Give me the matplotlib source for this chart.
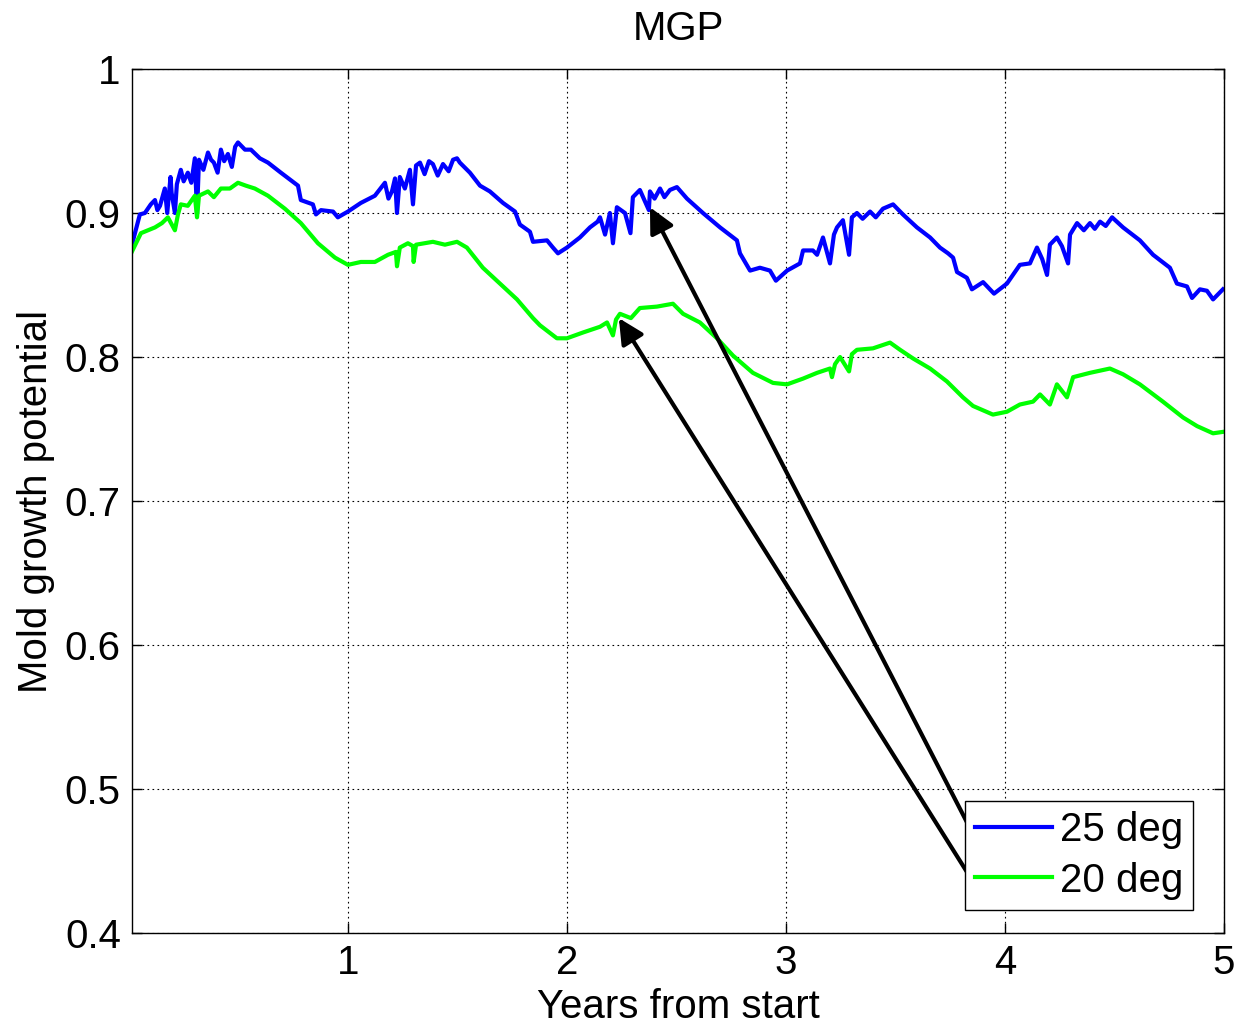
import numpy as np
import matplotlib.pyplot as plt

# Mold growth potential (years from start, MGP)
years_25 = [0.014, 0.050, 0.073, 0.100, 0.119, 0.130, 0.142, 0.164, 0.175, 0.190,
            0.195, 0.210, 0.219, 0.237, 0.250, 0.269, 0.285, 0.301, 0.311, 0.320,
            0.340, 0.361, 0.375, 0.388, 0.405, 0.420, 0.435, 0.452, 0.470, 0.485,
            0.498, 0.530, 0.557, 0.598, 0.635, 0.694, 0.772, 0.785, 0.840, 0.854,
            0.877, 0.932, 0.954, 1.000, 1.059, 1.123, 1.169, 1.185, 1.201, 1.215,
            1.224, 1.237, 1.260, 1.283, 1.297, 1.311, 1.329, 1.350, 1.370, 1.388,
            1.410, 1.434, 1.460, 1.480, 1.498, 1.511, 1.557, 1.603, 1.648, 1.708,
            1.763, 1.785, 1.831, 1.845, 1.909, 1.936, 1.959, 2.000, 2.059, 2.105,
            2.140, 2.151, 2.174, 2.196, 2.210, 2.228, 2.265, 2.290, 2.301, 2.333,
            2.374, 2.379, 2.400, 2.425, 2.445, 2.470, 2.502, 2.548, 2.621, 2.699,
            2.776, 2.790, 2.836, 2.881, 2.927, 2.954, 3.005, 3.064, 3.078, 3.123,
            3.142, 3.169, 3.185, 3.201, 3.219, 3.233, 3.260, 3.288, 3.301, 3.324,
            3.350, 3.384, 3.410, 3.443, 3.489, 3.534, 3.598, 3.658, 3.703, 3.740,
            3.763, 3.781, 3.826, 3.849, 3.900, 3.950, 4.009, 4.068, 4.114, 4.146,
            4.170, 4.192, 4.205, 4.237, 4.260, 4.288, 4.297, 4.329, 4.360, 4.388,
            4.410, 4.434, 4.460, 4.489, 4.539, 4.616, 4.676, 4.753, 4.785, 4.831,
            4.854, 4.890, 4.922, 4.950, 4.995]
mgp_25 = [0.878, 0.899, 0.900, 0.906, 0.909, 0.902, 0.905, 0.917, 0.900, 0.925,
          0.914, 0.900, 0.920, 0.930, 0.922, 0.928, 0.921, 0.938, 0.900, 0.937,
          0.930, 0.942, 0.937, 0.935, 0.928, 0.944, 0.936, 0.941, 0.932, 0.946,
          0.949, 0.944, 0.944, 0.938, 0.935, 0.928, 0.919, 0.909, 0.906, 0.899,
          0.902, 0.901, 0.897, 0.901, 0.907, 0.912, 0.921, 0.910, 0.915, 0.924,
          0.900, 0.925, 0.917, 0.930, 0.906, 0.933, 0.935, 0.927, 0.936, 0.934,
          0.926, 0.934, 0.929, 0.937, 0.938, 0.935, 0.928, 0.919, 0.915, 0.907,
          0.901, 0.892, 0.887, 0.880, 0.881, 0.876, 0.872, 0.876, 0.883, 0.890,
          0.894, 0.897, 0.885, 0.900, 0.879, 0.904, 0.900, 0.886, 0.911, 0.916,
          0.902, 0.915, 0.910, 0.917, 0.911, 0.916, 0.918, 0.910, 0.900, 0.890,
          0.881, 0.872, 0.860, 0.862, 0.860, 0.853, 0.860, 0.865, 0.874, 0.874,
          0.871, 0.883, 0.874, 0.865, 0.885, 0.890, 0.895, 0.871, 0.897, 0.900,
          0.896, 0.901, 0.897, 0.903, 0.906, 0.899, 0.890, 0.883, 0.876, 0.872,
          0.869, 0.859, 0.855, 0.847, 0.852, 0.844, 0.851, 0.864, 0.865, 0.876,
          0.868, 0.857, 0.878, 0.883, 0.877, 0.865, 0.885, 0.893, 0.888, 0.893,
          0.889, 0.894, 0.891, 0.897, 0.890, 0.881, 0.871, 0.862, 0.851, 0.849,
          0.841, 0.847, 0.846, 0.840, 0.847]

years_20 = [0.010, 0.055, 0.119, 0.151, 0.178, 0.210, 0.224, 0.237, 0.269, 0.301,
            0.311, 0.320, 0.361, 0.388, 0.420, 0.461, 0.498, 0.534, 0.575, 0.635,
            0.712, 0.785, 0.863, 0.941, 1.000, 1.059, 1.123, 1.183, 1.219, 1.224,
            1.237, 1.274, 1.297, 1.300, 1.311, 1.388, 1.443, 1.498, 1.543, 1.616,
            1.694, 1.772, 1.845, 1.877, 1.954, 2.000, 2.073, 2.151, 2.183, 2.210,
            2.224, 2.242, 2.292, 2.333, 2.411, 2.484, 2.530, 2.607, 2.685, 2.758,
            2.849, 2.941, 3.005, 3.078, 3.142, 3.201, 3.210, 3.224, 3.247, 3.288,
            3.301, 3.324, 3.397, 3.475, 3.521, 3.580, 3.658, 3.735, 3.808, 3.854,
            3.945, 4.009, 4.068, 4.128, 4.160, 4.205, 4.237, 4.283, 4.311, 4.388,
            4.479, 4.539, 4.616, 4.721, 4.813, 4.877, 4.950, 4.995]
mgp_20 = [0.872, 0.886, 0.890, 0.893, 0.897, 0.888, 0.899, 0.906, 0.905, 0.912,
          0.897, 0.912, 0.915, 0.911, 0.917, 0.917, 0.921, 0.919, 0.917, 0.912,
          0.903, 0.893, 0.879, 0.869, 0.864, 0.866, 0.866, 0.871, 0.873, 0.863,
          0.876, 0.879, 0.877, 0.866, 0.878, 0.880, 0.878, 0.880, 0.876, 0.862,
          0.851, 0.840, 0.827, 0.822, 0.813, 0.813, 0.817, 0.821, 0.824, 0.815,
          0.826, 0.830, 0.827, 0.834, 0.835, 0.837, 0.830, 0.824, 0.813, 0.801,
          0.789, 0.782, 0.781, 0.785, 0.789, 0.792, 0.786, 0.795, 0.800, 0.790,
          0.802, 0.805, 0.806, 0.810, 0.805, 0.799, 0.792, 0.783, 0.772, 0.766,
          0.760, 0.762, 0.767, 0.769, 0.774, 0.767, 0.781, 0.772, 0.786, 0.789,
          0.792, 0.788, 0.781, 0.769, 0.758, 0.752, 0.747, 0.748]

# arrow tails (near legend) and tips (on the curves)
arrow_tail = [(3.836, 0.474), (3.836, 0.440)]
arrow_tip = [(2.379, 0.904), (2.237, 0.827)]

plt.rcParams['font.family'] = ['Liberation Sans', 'DejaVu Sans']

fig = plt.figure(figsize=(12.38, 10.24), dpi=100)
ax = fig.add_axes([0.1066, 0.0889, 0.8821, 0.8437])

ax.plot(years_25, mgp_25, color=(0, 0, 1), linewidth=3, label="25 deg")
ax.plot(years_20, mgp_20, color=(0, 1, 0), linewidth=3, label="20 deg")

for tail, tip in zip(arrow_tail, arrow_tip):
    ax.annotate("", xy=tip, xytext=tail,
                arrowprops=dict(arrowstyle="-|>", color="k", lw=3,
                                mutation_scale=38, shrinkA=0, shrinkB=0))

ax.set_xlim(0.014, 5)
ax.set_ylim(0.4, 1)
ax.set_xticks([1, 2, 3, 4, 5])
ax.set_yticks([0.4, 0.5, 0.6, 0.7, 0.8, 0.9, 1.0])
ax.set_yticklabels(["0.4", "0.5", "0.6", "0.7", "0.8", "0.9", "1"])
ax.tick_params(direction="in", top=True, right=True, length=7, width=1,
               labelsize=29, pad=8)
ax.grid(True, color="k", linestyle=(0, (1.5, 3)), linewidth=0.8)
for s in ax.spines.values():
    s.set_linewidth(1)

ax.set_title("MGP", fontsize=29, pad=21)
ax.set_xlabel("Years from start", fontsize=29, labelpad=4)
ax.set_ylabel("Mold growth potential", fontsize=29, labelpad=7)

leg = ax.legend(loc="lower right", bbox_to_anchor=(0.972, 0.027), fontsize=29,
                fancybox=False, edgecolor="k", framealpha=1, handlelength=1.9,
                borderpad=0.25, labelspacing=0.3, handletextpad=0.2,
                borderaxespad=0)
leg.get_frame().set_linewidth(1)
leg.set_zorder(5)

fig.savefig("out.png", dpi=100)
